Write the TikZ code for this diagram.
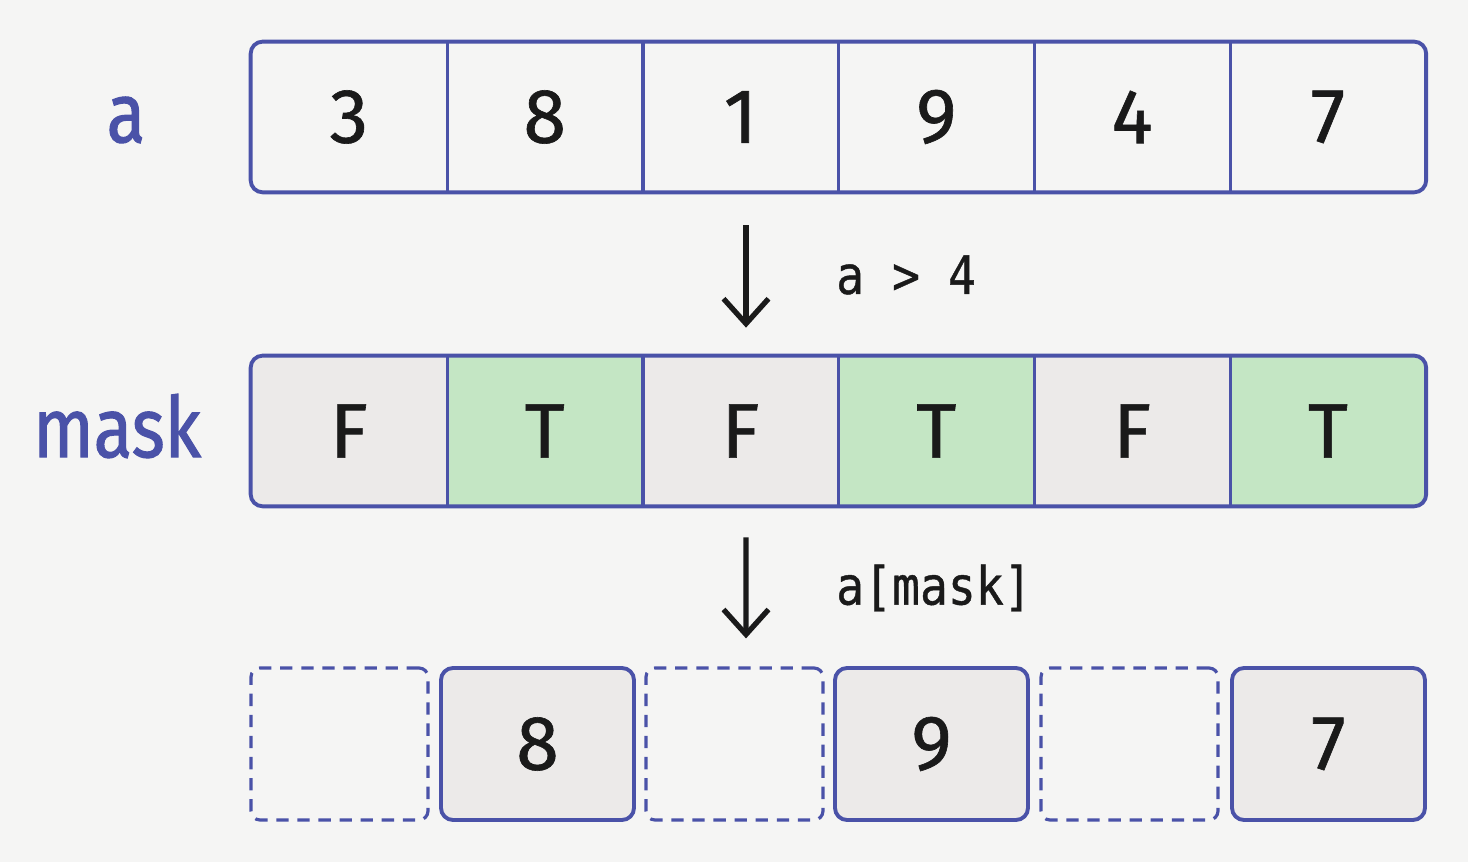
\documentclass[tikz,border=0pt]{standalone}
\usepackage{fontspec}
\setsansfont{Fira Sans}[FakeBold=0.8]
\newfontfamily\namefont[FakeStretch=0.84,FakeBold=1.2]{Fira Sans}
\newfontfamily\codefont[FakeStretch=0.88,FakeBold=0.8]{DejaVu Sans Mono}
\usetikzlibrary{arrows.meta}
\definecolor{bg}{HTML}{F5F5F4}
\definecolor{edge}{HTML}{4A52A8}
\definecolor{ink}{HTML}{1A1A1A}
\definecolor{offfill}{HTML}{ECEAE9}
\definecolor{onfill}{HTML}{C4E6C4}
\tikzset{
  cell/.style={minimum width=3.916cm, minimum height=3cm, inner sep=0pt,
    text=ink, font=\sffamily\fontsize{44}{48}\selectfont},
  frame/.style={edge, line width=2.2pt, rounded corners=0.24cm},
  divider/.style={edge, line width=1.8pt},
  kept/.style={cell, minimum width=3.86cm, minimum height=3.04cm, draw=edge,
    line width=2.2pt, fill=offfill, rounded corners=0.24cm},
  dropped/.style={minimum width=3.54cm, minimum height=3.04cm, draw=edge,
    line width=1.8pt, dash pattern=on 7pt off 5pt, rounded corners=0.18cm},
  varname/.style={text=edge, font=\namefont\fontsize{48}{52}\selectfont},
  code/.style={anchor=west, text=ink, font=\codefont\fontsize{30}{34}\selectfont},
  flow/.style={ink, line width=3pt, -{Straight Barb[length=5mm,width=9mm]}}
}

\def\slot#1#2#3{%
  \draw (#2,2.36) node[kept] (#1) {#3};
}
\def\gap#1#2{%
  \draw (#2,2.36) node[dropped] (#1) {};
}

\begin{document}
\begin{tikzpicture}
\fill[bg] (0,0) rectangle (29.36,17.24);
\useasboundingbox (0,0) rectangle (29.36,17.24);

% array a
\draw (2.52,14.84) node[varname] (la) {a};
\foreach \v [count=\i] in {3,8,1,9,4,7}
  \draw (3.062+\i*3.916,14.9) node[cell] (a\i) {\v};
\foreach \i in {1,...,5}
  \draw[divider] (a\i.north east) -- (a\i.south east);
\draw[frame] (a1.north west) rectangle (a6.south east);

% boolean mask
\draw (2.34,8.72) node[varname] (lm) {mask};
\begin{scope}
\clip[rounded corners=0.24cm] (5.02,7.12) rectangle (28.52,10.12);
\foreach \v/\f [count=\i] in {F/offfill,T/onfill,F/offfill,T/onfill,F/offfill,T/onfill}
  \draw (3.062+\i*3.916,8.62) node[cell,fill=\f] (m\i) {\v};
\end{scope}
\foreach \i in {1,...,5}
  \draw[divider] (m\i.north east) -- (m\i.south east);
\draw[frame] (m1.north west) rectangle (m6.south east);

% selected values
\gap{g1}{6.79}   \slot{s1}{10.75}{8}
\gap{g2}{14.69}  \slot{s2}{18.63}{9}
\gap{g3}{22.59}  \slot{s3}{26.57}{7}

\draw[flow, shorten <=0.66cm, shorten >=0.56cm]
  ([xshift=0.11cm]a3.south) -- ([xshift=0.11cm]m3.north);
\draw (16.6,11.74) node[code] (cond) {a > 4};
\draw[flow, shorten <=0.62cm, shorten >=0.56cm]
  ([xshift=0.11cm]m3.south) -- ([xshift=0.23cm]g2.north);
\draw (16.6,5.48) node[code] (sel) {a[mask]};
\end{tikzpicture}
\end{document}
